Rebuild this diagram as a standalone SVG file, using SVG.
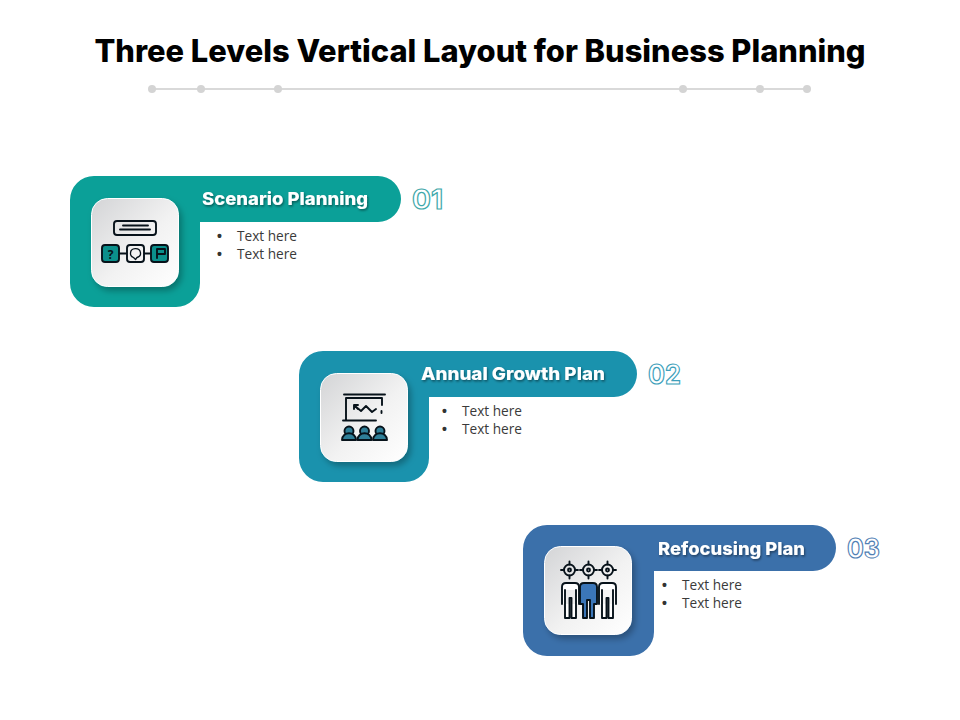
<svg xmlns="http://www.w3.org/2000/svg" width="960" height="720" viewBox="0 0 960 720">
<style>
.title{font:800 31px Inter,"Open Sans",sans-serif;fill:#000}
.head{font:800 17.500px Inter,"Open Sans",sans-serif;fill:#fff}
.body{font:400 14px "Open Sans","Noto Sans",sans-serif;fill:#3a3a3a}
.bul{font:700 14px "Liberation Sans",sans-serif;fill:#333}
.num{font:700 27px Inter,"Open Sans",sans-serif;fill:#fff;stroke-width:1.2}
.ink{fill:none;stroke:#07121a;stroke-width:1.9;stroke-linecap:round;stroke-linejoin:round}
.rule{stroke:#d9d9d9;stroke-width:2}
.dot{fill:#d4d4d4}
</style>
<defs>
<linearGradient id="card" x1="0" y1="0" x2="1" y2="1"><stop offset="0" stop-color="#d3d4d6"/><stop offset=".55" stop-color="#f2f2f2"/><stop offset="1" stop-color="#fff"/></linearGradient>
<filter id="sh" x="-20%" y="-20%" width="150%" height="150%"><feDropShadow dx="3" dy="4" stdDeviation="3" flood-color="#000" flood-opacity=".28"/></filter>
<filter id="ts" x="-5%" y="-20%" width="110%" height="150%"><feDropShadow dx="1" dy="1.5" stdDeviation="1" flood-color="#000" flood-opacity=".45"/></filter>
<g id="card-shape"><rect width="87" height="88" rx="16" fill="url(#card)" stroke="#fff" stroke-width="1" filter="url(#sh)"/></g>
</defs>
<text x="480" y="62" text-anchor="middle" class="title" textLength="771" lengthAdjust="spacingAndGlyphs">Three Levels Vertical Layout for Business Planning</text>
<g id="rule">
<line x1="152" y1="89" x2="807" y2="89" class="rule"/>
<circle cx="152" cy="89" r="4" class="dot"/><circle cx="201" cy="89" r="4" class="dot"/><circle cx="278" cy="89" r="4" class="dot"/><circle cx="683" cy="89" r="4" class="dot"/><circle cx="760" cy="89" r="4" class="dot"/><circle cx="807" cy="89" r="4" class="dot"/>
</g>
<g id="connectors"/>
<g id="level-1">
<path d="M94 176H378A23 23 0 0 1 378 222H200V283A24 24 0 0 1 176 307H94A24 24 0 0 1 70 283V200A24 24 0 0 1 94 176Z" fill="#0ba098"/>
<use href="#card-shape" x="91.500" y="198.500"/>
<g class="ink">
<rect x="114" y="221" width="42" height="14" rx="3"/><path d="M123 225.500H148M120 229.500H150"/>
<rect x="102" y="245" width="17" height="17" rx="3" fill="#0b8f8b"/>
<rect x="127" y="245" width="17" height="17" rx="3"/>
<rect x="151" y="245" width="17" height="17" rx="3" fill="#0b8f8b"/>
<path d="M120 253.500H126M145 253.500H150M157 258V249H165V254H157"/>
<path d="M130.500 253A5 4.500 0 1 1 137 257.500L135.500 259.500L133.500 257.500A5 4.500 0 0 1 130.500 253Z" stroke-width="1.300"/>
</g>
<text x="110.500" y="258.500" text-anchor="middle" style="font:700 12px 'Open Sans',sans-serif;fill:#07121a">?</text>
<text x="202" y="205" class="head" filter="url(#ts)" textLength="166" lengthAdjust="spacingAndGlyphs">Scenario Planning</text>
<text x="412" y="209" class="num" stroke="#3fa8aa" textLength="31" lengthAdjust="spacingAndGlyphs">01</text>
<text x="217" y="241" class="bul">•</text><text x="237" y="241" class="body" textLength="60" lengthAdjust="spacingAndGlyphs">Text here</text>
<text x="217" y="259" class="bul">•</text><text x="237" y="259" class="body" textLength="60" lengthAdjust="spacingAndGlyphs">Text here</text>
</g>
<g id="level-2">
<path d="M323 351H614A23 23 0 0 1 614 397H429V458A24 24 0 0 1 405 482H323A24 24 0 0 1 299 458V375A24 24 0 0 1 323 351Z" fill="#1a92ad"/>
<use href="#card-shape" x="320.500" y="373.500"/>
<g class="ink">
<path d="M344 394.500H385M346 398V420M343 420.500H376M346 398H382V405M381.500 411V413"/>
<path d="M354 405L358 409M354 405H358M354 405V409M355 406L361 411L366 406L372 412L376 409"/>
<g fill="#2f7f98"><circle cx="349" cy="431" r="4.500"/><path d="M342 440C342 431 356 431 356 440Z"/><circle cx="364.500" cy="431" r="4.500"/><path d="M357.500 440C357.500 431 371.500 431 371.500 440Z"/><circle cx="380" cy="431" r="4.500"/><path d="M373 440C373 431 387 431 387 440Z"/></g>
</g>
<text x="421" y="380" class="head" filter="url(#ts)" textLength="184" lengthAdjust="spacingAndGlyphs">Annual Growth Plan</text>
<text x="648" y="384" class="num" stroke="#3d9fbb" textLength="33" lengthAdjust="spacingAndGlyphs">02</text>
<text x="442" y="416" class="bul">•</text><text x="462" y="416" class="body" textLength="60" lengthAdjust="spacingAndGlyphs">Text here</text>
<text x="442" y="434" class="bul">•</text><text x="462" y="434" class="body" textLength="60" lengthAdjust="spacingAndGlyphs">Text here</text>
</g>
<g id="level-3">
<path d="M547 525H813A23 23 0 0 1 813 571H654V632A24 24 0 0 1 630 656H547A24 24 0 0 1 523 632V549A24 24 0 0 1 547 525Z" fill="#3b70aa"/>
<use href="#card-shape" x="544.500" y="546.500"/>
<g class="ink">
<circle cx="569.500" cy="570" r="5.500"/><circle cx="569.500" cy="570" r="1.500"/><path d="M561 570H564M575 570H578M569.500 561.500V564.500M569.500 575.500V578.500"/>
<circle cx="588.500" cy="570" r="5.500"/><circle cx="588.500" cy="570" r="1.500"/><path d="M580 570H583M594 570H597M588.500 561.500V564.500M588.500 575.500V578.500"/>
<circle cx="607.500" cy="570" r="5.500"/><circle cx="607.500" cy="570" r="1.500"/><path d="M599 570H602M613 570H616M607.500 561.500V564.500M607.500 575.500V578.500"/>
<path d="M562 604V587Q562 583 566 583H575Q579 583 579 587V604M565 590V618H569.500V598H571.500V618H576V590" fill="#fff"/>
<path d="M599 604V587Q599 583 603 583H612Q616 583 616 587V604M602 590V618H606.500V598H608.500V618H613V590" fill="#fff"/>
<path d="M580 587Q580 583 584 583H593Q597 583 597 587V604H594V618H590V600H587V618H583V604H580Z" fill="#3b76b8"/>
</g>
<text x="658" y="555" class="head" filter="url(#ts)" textLength="147" lengthAdjust="spacingAndGlyphs">Refocusing Plan</text>
<text x="847" y="558" class="num" stroke="#5080b4" textLength="33" lengthAdjust="spacingAndGlyphs">03</text>
<text x="662" y="590" class="bul">•</text><text x="682" y="590" class="body" textLength="60" lengthAdjust="spacingAndGlyphs">Text here</text>
<text x="662" y="608" class="bul">•</text><text x="682" y="608" class="body" textLength="60" lengthAdjust="spacingAndGlyphs">Text here</text>
</g>
</svg>
